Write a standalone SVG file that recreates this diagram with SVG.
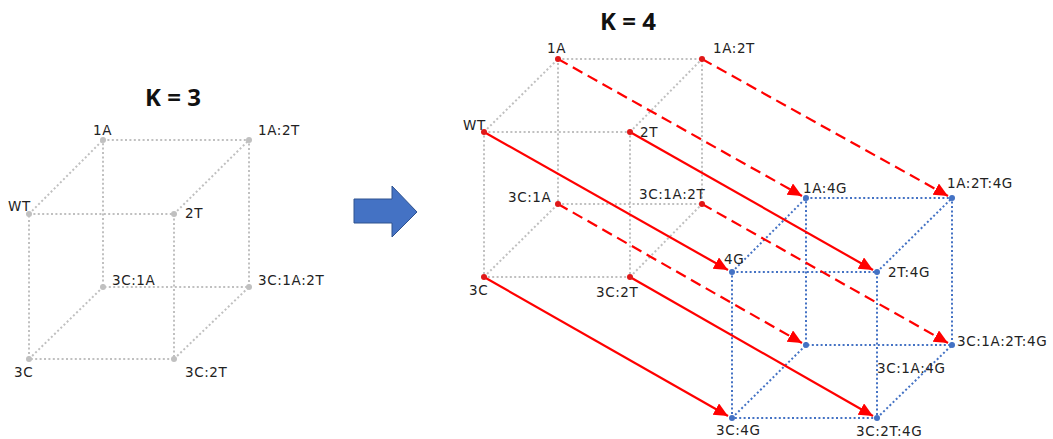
<svg xmlns="http://www.w3.org/2000/svg" width="1053" height="439" viewBox="0 0 1053 439">
<defs>
<style>
.t{font-family:"DejaVu Sans",Verdana,sans-serif;font-size:13.5px;letter-spacing:0.6px;fill:#222}
.h{font-family:"Open Sans","Liberation Sans",sans-serif;font-size:24px;font-weight:bold;fill:#111;text-anchor:middle}
.g{stroke:#c0c0c0;stroke-width:2;stroke-dasharray:2 2.4;fill:none}
.b{stroke:#4472c4;stroke-width:2;stroke-dasharray:2 2.4;fill:none}
.r{stroke:#ff0000;stroke-width:2.2;fill:none;marker-end:url(#ah)}
.rd{stroke-dasharray:11 6}
.ng{fill:#c0c0c0}
.nr{fill:#e01818}
.nb{fill:#4472c4}
</style>
<marker id="ah" markerUnits="userSpaceOnUse" markerWidth="16" markerHeight="14" refX="14" refY="6.5" orient="auto">
<path d="M0,0 L14,6.5 L0,13 z" fill="#ff0000"/>
</marker>
</defs>
<rect width="1053" height="439" fill="#fff"/>
<text class="h" x="173" y="106">K = 3</text>
<text class="h" x="628" y="30">K = 4</text>
<g id="cube3-edges">
<path class="g" d="M29,214 H174 V359 H29 Z M103,140 H249 V287 H103 Z M29,214 L103,140 M174,214 L249,140 M29,359 L103,287 M174,359 L249,287"/>
</g>
<g id="cube4-edges">
<path class="g" d="M484,132 H630 V277 H484 Z M558,59 H702 V204 H558 Z M484,132 L558,59 M630,132 L702,59 M484,277 L558,204 M630,277 L702,204"/>
<path class="b" d="M732,272 H877 V418 H732 Z M806,198 H952 V345 H806 Z M732,272 L806,198 M877,272 L952,198 M732,418 L806,345 M877,418 L952,345"/>
</g>
<g id="big-arrow">
<path d="M354,199 H392 V186 L417,212 L392,237 V223 H354 Z" fill="#4472c4" stroke="#2f528f" stroke-width="1"/>
</g>
<g id="connectors">
<path class="r" d="M484,132 L728,270"/>
<path class="r" d="M630,132 L873,270"/>
<path class="r" d="M484,277 L728,416"/>
<path class="r" d="M630,277 L873,416"/>
<path class="r rd" d="M558,59 L802,196"/>
<path class="r rd" d="M702,59 L948,196"/>
<path class="r rd" d="M558,204 L802,343"/>
<path class="r rd" d="M702,204 L948,343"/>
</g>
<g id="n3-1A"><circle class="ng" cx="103" cy="140" r="3"/><text class="t" x="93" y="135">1A</text></g>
<g id="n3-1A2T"><circle class="ng" cx="249" cy="140" r="3"/><text class="t" x="258" y="135">1A:2T</text></g>
<g id="n3-WT"><circle class="ng" cx="29" cy="214" r="3"/><text class="t" x="8" y="211">WT</text></g>
<g id="n3-2T"><circle class="ng" cx="174" cy="214" r="3"/><text class="t" x="185" y="218">2T</text></g>
<g id="n3-3C1A"><circle class="ng" cx="103" cy="287" r="3"/><text class="t" x="112" y="285">3C:1A</text></g>
<g id="n3-3C1A2T"><circle class="ng" cx="249" cy="287" r="3"/><text class="t" x="258" y="285">3C:1A:2T</text></g>
<g id="n3-3C"><circle class="ng" cx="29" cy="359" r="3"/><text class="t" x="14" y="377">3C</text></g>
<g id="n3-3C2T"><circle class="ng" cx="174" cy="359" r="3"/><text class="t" x="185" y="377">3C:2T</text></g>
<g id="n4-1A"><circle class="nr" cx="558" cy="59" r="3"/><text class="t" x="547" y="53">1A</text></g>
<g id="n4-1A2T"><circle class="nr" cx="702" cy="59" r="3"/><text class="t" x="713" y="53">1A:2T</text></g>
<g id="n4-WT"><circle class="nr" cx="484" cy="132" r="3"/><text class="t" x="463" y="130">WT</text></g>
<g id="n4-2T"><circle class="nr" cx="630" cy="132" r="3"/><text class="t" x="640" y="137">2T</text></g>
<g id="n4-3C1A"><circle class="nr" cx="558" cy="204" r="3"/><text class="t" x="508" y="202">3C:1A</text></g>
<g id="n4-3C1A2T"><circle class="nr" cx="702" cy="204" r="3"/><text class="t" x="639" y="199">3C:1A:2T</text></g>
<g id="n4-3C"><circle class="nr" cx="484" cy="277" r="3"/><text class="t" x="469" y="295">3C</text></g>
<g id="n4-3C2T"><circle class="nr" cx="630" cy="277" r="3"/><text class="t" x="596" y="297">3C:2T</text></g>
<g id="n4-4G"><circle class="nb" cx="732" cy="272" r="3"/><text class="t" x="724" y="264">4G</text></g>
<g id="n4-1A4G"><circle class="nb" cx="806" cy="198" r="3"/><text class="t" x="803" y="193">1A:4G</text></g>
<g id="n4-1A2T4G"><circle class="nb" cx="952" cy="198" r="3"/><text class="t" x="947" y="188">1A:2T:4G</text></g>
<g id="n4-2T4G"><circle class="nb" cx="877" cy="272" r="3"/><text class="t" x="888" y="277">2T:4G</text></g>
<g id="n4-3C1A4G"><circle class="nb" cx="806" cy="345" r="3"/><text class="t" x="877" y="373">3C:1A:4G</text></g>
<g id="n4-3C1A2T4G"><circle class="nb" cx="952" cy="345" r="3"/><text class="t" x="957" y="346">3C:1A:2T:4G</text></g>
<g id="n4-3C4G"><circle class="nb" cx="732" cy="418" r="3"/><text class="t" x="716" y="435">3C:4G</text></g>
<g id="n4-3C2T4G"><circle class="nb" cx="877" cy="418" r="3"/><text class="t" x="856" y="436">3C:2T:4G</text></g>
</svg>
